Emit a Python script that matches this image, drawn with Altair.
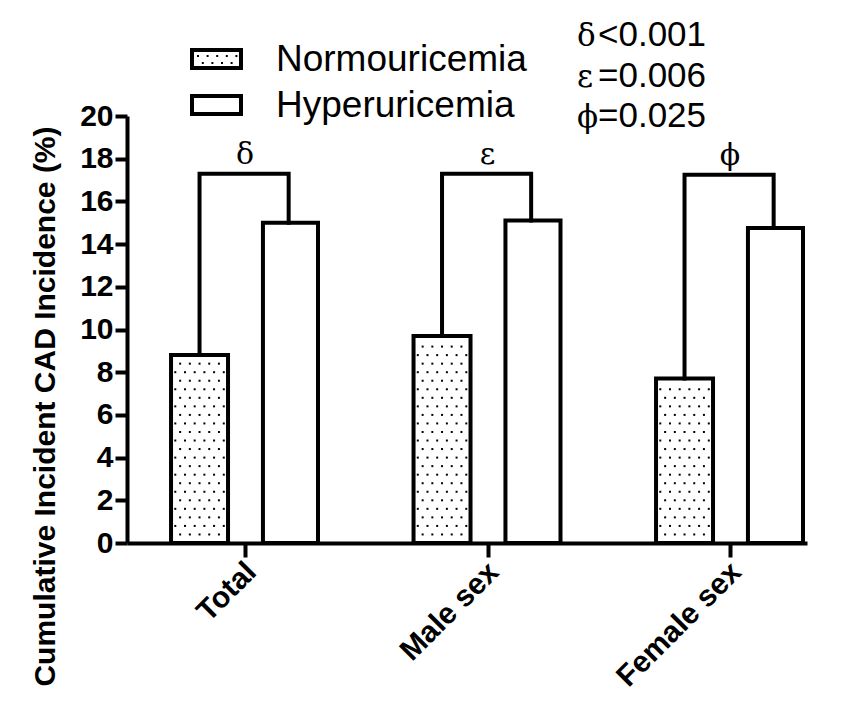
import json
import altair as alt
import pandas as pd

# ---------------- data ----------------
groups = ["Total", "Male sex", "Female sex"]
series = ["Normouricemia", "Hyperuricemia"]
normo = [8.8, 9.7, 7.7]
hyper = [15.0, 15.1, 14.75]
bracket_top = [17.3, 17.3, 17.25]
bracket_sym = ["δ", "ε", "ϕ"]
p_text = ["<0.001", "=0.006", "=0.025"]
y_ticks = [0, 2, 4, 6, 8, 10, 12, 14, 16, 18, 20]

# ---------------- layout constants ----------------
W, H = 680, 427
PX_PER_X = 242.5
X0 = -0.4866
X1 = X0 + W / PX_PER_X
LEFT_ABS, ZERO_ABS = 127, 543
PX_PER_Y = H / 20.0

def ux(px_abs):
    return X0 + (px_abs - LEFT_ABS) / PX_PER_X

def uy(py_abs):
    return (ZERO_ABS - py_abs) / PX_PER_Y

N_OFF = (-0.305, -0.070)
H_OFF = (0.074, 0.301)
SANS = "Liberation Sans"
SERIF = "DejaVu Serif"

xs = alt.Scale(domain=[X0, X1], nice=False, zero=False)
ys = alt.Scale(domain=[0, 20], nice=False, zero=True)

# bars
rows = []
for i, g in enumerate(groups):
    rows.append(dict(g=g, s=series[0], x1=i + N_OFF[0], x2=i + N_OFF[1], v=normo[i], z=0))
    rows.append(dict(g=g, s=series[1], x1=i + H_OFF[0], x2=i + H_OFF[1], v=hyper[i], z=0))
bars_df = pd.DataFrame(rows)

# dot texture for normouricemia bars
dots = []
for i, v in enumerate(normo):
    cx = i + (N_OFF[0] + N_OFF[1]) / 2
    k = 1
    while 0.4 * k <= v - 0.3:
        offs = [-0.08, -0.04, 0, 0.04, 0.08] if k % 2 else [-0.10, -0.06, -0.02, 0.02, 0.06, 0.10]
        for o in offs:
            dots.append(dict(x=cx + o, y=0.4 * k))
        k += 1
dots_df = pd.DataFrame(dots)

# legend box dot texture
ldots = []
for yy, xlist in [(56, [198, 207.6, 217.2, 226.8, 236.4]), (63, [202.8, 212.4, 222, 231.6])]:
    for xx in xlist:
        ldots.append(dict(x=ux(xx), y=uy(yy)))
ldots_df = pd.DataFrame(ldots)

# brackets
br = []
for i, g in enumerate(groups):
    xl = i + (N_OFF[0] + N_OFF[1]) / 2
    xr = i + 0.18
    br += [dict(g=g, k=0, x=xl, y=normo[i]), dict(g=g, k=1, x=xl, y=bracket_top[i]),
           dict(g=g, k=2, x=xr, y=bracket_top[i]), dict(g=g, k=3, x=xr, y=hyper[i])]
br_df = pd.DataFrame(br)

sym_df = pd.DataFrame(dict(x=list(range(len(groups))), y=bracket_top, t=bracket_sym))

# legend
leg_df = pd.DataFrame(dict(
    s=series,
    x1=[ux(192)] * 2, x2=[ux(241)] * 2,
    y1=[uy(50), uy(96)], y2=[uy(68), uy(114)],
    tx=[ux(276)] * 2, ty=[uy(71), uy(117)],
))

# p-value annotation
ann_df = pd.DataFrame(dict(
    sym=bracket_sym, rest=p_text,
    sx=[ux(577)] * 3, rx=[ux(598)] * 3,
    y=[uy(46), uy(87), uy(127)],
))

label_expr = json.dumps(groups) + "[round(datum.value)]"
Y_TITLE = "Cumulative Incident CAD Incidence (%)"

x_axis = alt.Axis(values=[0, 1, 2], labelExpr=label_expr, title=None, grid=False,
                  tickSize=14, tickWidth=4, tickColor="black", domainWidth=4, domainColor="black",
                  labelAngle=315, labelAlign="right", labelBaseline="middle",
                  labelPadding=10, labelOffset=6,
                  labelFont=SANS, labelFontSize=30, labelFontWeight="bold", labelColor="black",
                  labelFlush=False, labelOverlap=False)
y_axis = alt.Axis(values=y_ticks, title=Y_TITLE, grid=False,
                  tickSize=12, tickWidth=4, tickColor="black", domainWidth=4, domainColor="black",
                  labelFont=SANS, labelFontSize=30, labelFontWeight="bold", labelColor="black",
                  labelPadding=2, labelFlush=False, labelOverlap=False,
                  titleFont=SANS, titleFontSize=30, titleFontWeight="bold", titleColor="black",
                  titleX=-82, titleY=290, titleAngle=270, titleAlign="center", titleBaseline="middle")


def X(field):
    return alt.X(field, scale=xs, axis=x_axis, title=None)


def Y(field):
    return alt.Y(field, scale=ys, axis=y_axis, title=Y_TITLE)


bars = alt.Chart(bars_df).mark_rect(fill="white", stroke="black", strokeWidth=4).encode(
    x=X("x1:Q"), x2="x2:Q", y=Y("v:Q"), y2="z:Q",
)

dots_layer = alt.Chart(dots_df).mark_square(size=4, color="black", opacity=1).encode(
    x=X("x:Q"), y=Y("y:Q"),
)

brackets = alt.Chart(br_df).mark_line(color="black", strokeWidth=4, strokeJoin="miter",
                                      strokeCap="square").encode(
    x=X("x:Q"), y=Y("y:Q"), detail="g:N", order="k:Q",
)

syms = alt.Chart(sym_df).mark_text(font=SERIF, fontSize=30, baseline="alphabetic", dy=-10,
                                   color="black").encode(
    x=X("x:Q"), y=Y("y:Q"), text="t:N",
)

leg_boxes = alt.Chart(leg_df).mark_rect(fill="white", stroke="black", strokeWidth=4).encode(
    x=X("x1:Q"), x2="x2:Q", y=Y("y1:Q"), y2="y2:Q",
)
leg_dots = alt.Chart(ldots_df).mark_square(size=4, color="black", opacity=1).encode(
    x=X("x:Q"), y=Y("y:Q"),
)
leg_text = alt.Chart(leg_df).mark_text(font=SANS, fontSize=37, align="left", baseline="alphabetic",
                                       color="black").encode(
    x=X("tx:Q"), y=Y("ty:Q"), text="s:N",
)

ann_sym = alt.Chart(ann_df).mark_text(font=SERIF, fontSize=31, align="left", baseline="alphabetic",
                                      color="black").encode(
    x=X("sx:Q"), y=Y("y:Q"), text="sym:N",
)
ann_rest = alt.Chart(ann_df).mark_text(font=SANS, fontSize=35, align="left", baseline="alphabetic",
                                       color="black").encode(
    x=X("rx:Q"), y=Y("y:Q"), text="rest:N",
)

chart = alt.layer(
    bars, dots_layer, brackets, syms, leg_boxes, leg_dots, leg_text, ann_sym, ann_rest,
).properties(
    width=W, height=H,
    autosize=alt.AutoSizeParams(type="none"),
    padding={"left": 119, "top": 108, "right": 18, "bottom": 155},
    background="white",
).configure_view(strokeWidth=0)

chart.save("out.html", embed_options={"renderer": "svg", "actions": False})
